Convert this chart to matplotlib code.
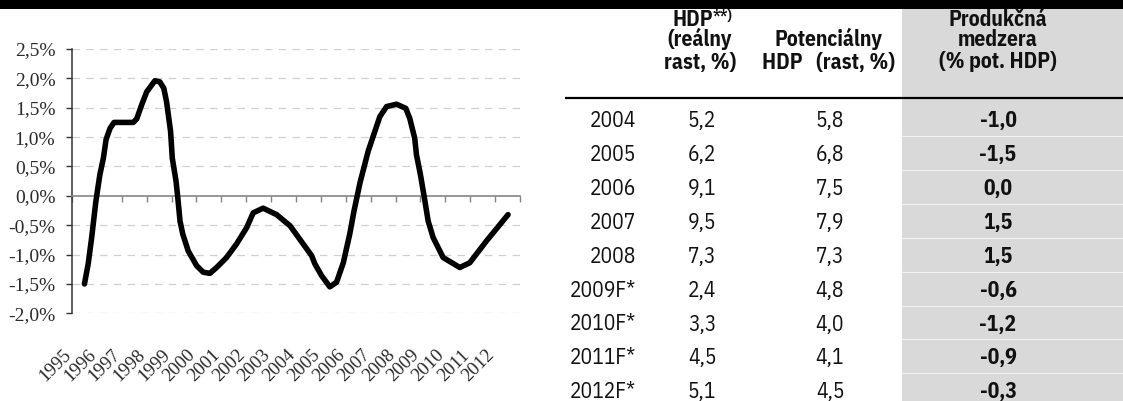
import matplotlib
matplotlib.use("Agg")
import matplotlib.pyplot as plt
from matplotlib import transforms
from matplotlib.ticker import FuncFormatter, FixedLocator
from matplotlib.patches import Rectangle

# ---------------- data ----------------
# output gap curve (% of potential GDP) (x in years)
curve_t = [1995.0, 1995.15, 1995.29, 1995.46, 1995.62, 1995.76, 1995.87, 1996.03,
           1996.19, 1996.96, 1997.10, 1997.30, 1997.50, 1997.83, 1998.03, 1998.19,
           1998.30, 1998.46, 1998.53, 1998.68, 1998.75, 1998.84, 1998.95, 1999.17,
           1999.51, 1999.77, 2000.04, 2000.31, 2000.71, 2001.11, 2001.52, 2001.78,
           2002.18, 2002.72, 2003.26, 2003.79, 2004.13, 2004.26, 2004.53, 2004.86,
           2005.13, 2005.40, 2005.66, 2005.83, 2006.07, 2006.40, 2006.67, 2006.87,
           2007.14, 2007.54, 2007.91, 2008.07, 2008.27, 2008.34, 2008.50, 2008.68,
           2008.81, 2009.01, 2009.41, 2010.08, 2010.48, 2011.15, 2012.02]
curve_v = [-1.50, -1.16, -0.71, -0.09, 0.36, 0.64, 0.96, 1.15,
           1.25, 1.25, 1.31, 1.55, 1.77, 1.96, 1.94, 1.83,
           1.60, 1.10, 0.64, 0.25, -0.03, -0.43, -0.65, -0.94,
           -1.19, -1.30, -1.32, -1.22, -1.05, -0.82, -0.54, -0.29,
           -0.21, -0.32, -0.51, -0.82, -1.02, -1.16, -1.36, -1.55,
           -1.47, -1.14, -0.65, -0.26, 0.22, 0.76, 1.10, 1.35,
           1.52, 1.56, 1.49, 1.32, 0.98, 0.70, 0.36, -0.09,
           -0.43, -0.71, -1.05, -1.22, -1.14, -0.77, -0.32]

year_labels = [str(y) for y in range(1995, 2013)]
y_ticks = [-2.0, -1.5, -1.0, -0.5, 0.0, 0.5, 1.0, 1.5, 2.0, 2.5]

# table
tbl_years = ["2004", "2005", "2006", "2007", "2008", "2009F*", "2010F*", "2011F*", "2012F*"]
tbl_hdp = ["5,2", "6,2", "9,1", "9,5", "7,3", "2,4", "3,3", "4,5", "5,1"]
tbl_pot = ["5,8", "6,8", "7,5", "7,9", "7,3", "4,8", "4,0", "4,1", "4,5"]
tbl_gap = ["-1,0", "-1,5", "0,0", "1,5", "1,5", "-0,6", "-1,2", "-0,9", "-0,3"]
hdr_hdp_main = "HDP"
hdr_hdp_sup = "**)"
hdr_hdp = ["(reálny", "rast, %)"]
hdr_pot = ["Potenciálny", "HDP   (rast, %)"]
hdr_gap = ["Produkčná", "medzera", "(% pot. HDP)"]

# ---------------- figure ----------------
W, H = 1123, 401
fig = plt.figure(figsize=(W / 100, H / 100), dpi=100)

# overlay axes in pixel coordinates for the table and the bands
ov = fig.add_axes([0, 0, 1, 1])
ov.set_xlim(0, W)
ov.set_ylim(H, 0)
ov.axis("off")

ov.add_patch(Rectangle((0, 0), W, 9, color="black", lw=0))
ov.add_patch(Rectangle((902, 9), W - 902, H - 9, color="#d9d9d9", lw=0))

sans = ["IBM Plex Sans Condensed", "Liberation Sans", "DejaVu Sans"]
hfs = 15.5
bfs = 15.5
tc = "#111111"

# header baselines
hb = [25.5, 46.5, 68.5]
ov.text(713, hb[0], hdr_hdp_main, ha="right", va="baseline", fontsize=hfs,
        fontweight="bold", family=sans, color=tc)
ov.text(713, hb[0] - 6, hdr_hdp_sup, ha="left", va="baseline", fontsize=10,
        fontweight="bold", family=sans, color=tc)
for i, s in enumerate(hdr_hdp):
    ov.text(700, hb[i + 1], s, ha="center", va="baseline", fontsize=hfs,
            fontweight="bold", family=sans, color=tc)
for i, s in enumerate(hdr_pot):
    ov.text(828, hb[i + 1], s, ha="center", va="baseline", fontsize=hfs,
            fontweight="bold", family=sans, color=tc)
for i, s in enumerate(hdr_gap):
    ov.text(998, hb[i], s, ha="center", va="baseline", fontsize=hfs,
            fontweight="bold", family=sans, color=tc)

ov.plot([565, W], [98.3, 98.3], color="black", lw=1.6, solid_capstyle="butt")

row0, dy = 127.4, 33.85
for i in range(len(tbl_years)):
    yb = row0 + dy * i
    ov.text(636, yb, tbl_years[i], ha="right", va="baseline", fontsize=bfs,
            family=sans, color=tc)
    ov.text(702, yb, tbl_hdp[i], ha="center", va="baseline", fontsize=bfs,
            family=sans, color=tc)
    ov.text(830, yb, tbl_pot[i], ha="center", va="baseline", fontsize=bfs,
            family=sans, color=tc)
    ov.text(998, yb, tbl_gap[i], ha="center", va="baseline", fontsize=bfs,
            family=sans, fontweight="bold", color=tc)
    if i < len(tbl_years) - 1:
        ysep = yb - 8 + dy / 2
        ov.plot([902, W], [ysep, ysep], color="#f2f2f2", lw=0.8)

# ---------------- chart ----------------
ax = fig.add_axes([72 / W, 1 - 313.3 / H, 448 / W, 264.3 / H])
ax.set_xlim(1994.5, 2012.5)
ax.set_ylim(-2.0, 2.5)

for v in y_ticks:
    if v != 0:
        ax.axhline(v, color="#d0d0d0", lw=0.9, dashes=(6, 5), zorder=0)

ax.plot(curve_t, curve_v, color="black", lw=4.0, solid_joinstyle="round",
        solid_capstyle="round", zorder=3)

for s in ("top", "right"):
    ax.spines[s].set_visible(False)
ax.spines["bottom"].set_position(("data", 0))
ax.spines["bottom"].set_color("#858585")
ax.spines["bottom"].set_linewidth(1.2)
ax.spines["left"].set_color("#333333")
ax.spines["left"].set_linewidth(1.1)

ax.yaxis.set_major_locator(FixedLocator(y_ticks))
ax.yaxis.set_major_formatter(FuncFormatter(lambda v, p: f"{v:.1f}%".replace(".", ",")))
ax.tick_params(axis="y", direction="out", length=4, width=1.0, color="#333333",
               pad=8, labelsize=14, labelcolor="#2a2a2a")
for lab in ax.get_yticklabels():
    lab.set_family(["Liberation Serif", "DejaVu Serif"])

boundaries = [1994.5 + k for k in range(len(year_labels) + 1)]
ax.xaxis.set_major_locator(FixedLocator(boundaries))
ax.tick_params(axis="x", direction="out", length=4, width=1.0, color="#858585",
               labelbottom=False)

base = transforms.blended_transform_factory(ax.transData, ax.transAxes)
lab_tr = transforms.offset_copy(base, fig=fig, x=-16, y=0, units="dots")
for i, s in enumerate(year_labels):
    ax.text(1995 + i, -0.148, s, transform=lab_tr, rotation=45,
            rotation_mode="anchor", ha="right", va="center", fontsize=13.5,
            family=["Liberation Serif", "DejaVu Serif"], color="#2a2a2a",
            clip_on=False)

fig.savefig("out.png", dpi=100)
